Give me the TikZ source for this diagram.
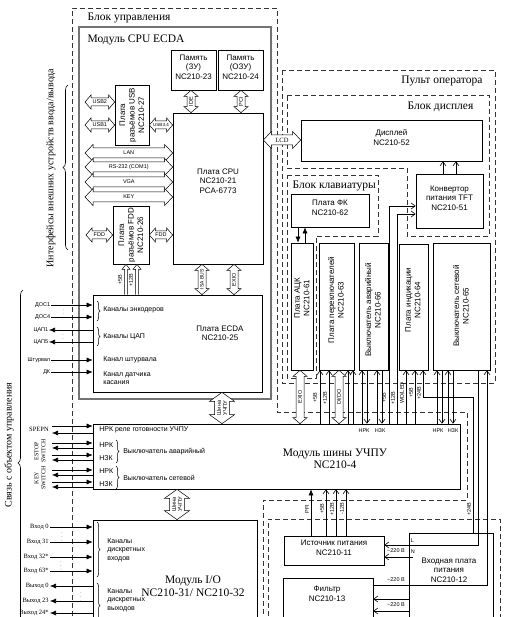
\documentclass[tikz,border=0pt]{standalone}
\usepackage{fontspec}
\setmainfont{Liberation Serif}
\setsansfont{Liberation Sans}
\usetikzlibrary{arrows.meta, positioning, calc, fit, decorations.pathreplacing}
\tikzset{
    scheme/.style={x=1pt, y=-1pt, line width=0.6pt, font=\sffamily\fontsize{8}{9.5}\selectfont,
        every node/.append style={align=center}},
    box/.style={draw, line width=0.7pt, inner sep=0pt},
    unit/.style={draw=black!55, line width=1.3pt, inner sep=0pt},
    frame/.style={draw=black!80, line width=0.7pt, dash pattern=on 5pt off 3pt},
    title/.style={font=\rmfamily\fontsize{11.5}{12.5}\selectfont},
    side/.style={font=\rmfamily\fontsize{10}{11}\selectfont, rotate=90},
    vtext/.style={rotate=90},
    tag/.style={font=\sffamily\fontsize{5.5}{6}\selectfont, inner sep=0.5pt},
    vtag/.style={tag, rotate=90},
    note/.style={font=\sffamily\fontsize{7}{8.5}\selectfont, align=left, inner sep=1pt},
    pinl/.style={font=\rmfamily\fontsize{6.5}{7.5}\selectfont, inner sep=1pt},
    ellip/.style={font=\fontsize{5}{5}\selectfont, text=violet!70!black, inner sep=0pt},
    % hollow arrows: shaft half width, head half width, head length
    hollow/.style n args={3}{draw=none, postaction={decorate, decoration={show path construction,
        lineto code={
            \draw[line width=0.5pt, fill=white]
                (\tikzinputsegmentfirst)
             -- ($(\tikzinputsegmentfirst)!#3!(\tikzinputsegmentlast)!#2!90:(\tikzinputsegmentlast)$)
             -- ($(\tikzinputsegmentfirst)!#3!(\tikzinputsegmentlast)!#1!90:(\tikzinputsegmentlast)$)
             -- ($(\tikzinputsegmentlast)!#3!(\tikzinputsegmentfirst)!#1!-90:(\tikzinputsegmentfirst)$)
             -- ($(\tikzinputsegmentlast)!#3!(\tikzinputsegmentfirst)!#2!-90:(\tikzinputsegmentfirst)$)
             -- (\tikzinputsegmentlast)
             -- ($(\tikzinputsegmentlast)!#3!(\tikzinputsegmentfirst)!#2!90:(\tikzinputsegmentfirst)$)
             -- ($(\tikzinputsegmentlast)!#3!(\tikzinputsegmentfirst)!#1!90:(\tikzinputsegmentfirst)$)
             -- ($(\tikzinputsegmentfirst)!#3!(\tikzinputsegmentlast)!#1!-90:(\tikzinputsegmentlast)$)
             -- ($(\tikzinputsegmentfirst)!#3!(\tikzinputsegmentlast)!#2!-90:(\tikzinputsegmentlast)$)
             -- cycle;
        }}}},
    hollowone/.style n args={3}{draw=none, postaction={decorate, decoration={show path construction,
        lineto code={
            \draw[line width=0.5pt, fill=white]
                ($(\tikzinputsegmentfirst)!#1!90:(\tikzinputsegmentlast)$)
             -- ($(\tikzinputsegmentlast)!#3!(\tikzinputsegmentfirst)!#1!-90:(\tikzinputsegmentfirst)$)
             -- ($(\tikzinputsegmentlast)!#3!(\tikzinputsegmentfirst)!#2!-90:(\tikzinputsegmentfirst)$)
             -- (\tikzinputsegmentlast)
             -- ($(\tikzinputsegmentlast)!#3!(\tikzinputsegmentfirst)!#2!90:(\tikzinputsegmentfirst)$)
             -- ($(\tikzinputsegmentlast)!#3!(\tikzinputsegmentfirst)!#1!90:(\tikzinputsegmentfirst)$)
             -- ($(\tikzinputsegmentfirst)!#1!-90:(\tikzinputsegmentlast)$);
        }}}},
    port/.style={hollow={4pt}{7pt}{6pt}},
    lane/.style={hollow={5pt}{8.5pt}{8pt}},
    busway/.style={hollow={7.5pt}{12.5pt}{9pt}},
    supply/.style={hollowone={1.5pt}{4pt}{5pt}},
    sig/.style={-{Latex[length=6pt, width=5pt]}},
    feed/.style={-{Straight Barb[length=4pt, width=6pt]}},
    brace/.style={decorate, decoration={brace, amplitude=3pt}, line width=0.5pt},
    bigbrace/.style={decorate, decoration={brace, amplitude=5pt}, line width=0.6pt},
}

\begin{document}
\begin{tikzpicture}[scheme]
    \useasboundingbox (0,0) rectangle (518,617);
    \clip (0,0) rectangle (518,617);

    % dashed blocks
    \draw[frame] (72,640) |- (277,8) -- (277,412) -- (467,412) -- (467,500) -- (263,500) -- (263,640);
    \draw[frame] (282,70) rectangle (495,383);
    \draw[frame] (287,95) -- (489,95) -- (489,236) -- (407,236) -- (407,168) -- (287,168) -- cycle;
    \draw[frame] (287,175) -- (378,175) -- (378,236) -- (316,236) -- (316,378) -- (287,378) -- cycle;
    \draw[frame] (268,640) |- (500,519) -- (500,640);

    \node[title, anchor=west] (tctl)  at (84,18)  {Блок управления};
    \node[title, anchor=east] (tpult) at (486,81) {Пульт оператора};
    \node[title, anchor=east] (tdisp) at (477,107) {Блок дисплея};
    \node[title, anchor=west] (tkbd)  at (289,186) {Блок клавиатуры};

    % CPU module
    \node[unit, fit={(79,27) (271,399)}] (modcpu) {};
    \node[title, anchor=west] (tcpu) at (84,40) {Модуль CPU ECDA};
    \node[box, fit={(171,50) (216,90)}]  (zu)  {Память\\(ЗУ)\\NC210-23};
    \node[box, fit={(218,50) (263,90)}]  (ozu) {Память\\(ОЗУ)\\NC210-24};
    \node[box, fit={(173,113) (263,264)}] (cpu) {};
    \node (cpulbl) at (218,181) {Плата CPU\\NC210-21\\PCA-6773};
    \node[box, fit={(115,85) (149,145)}] (usb) {};
    \node[vtext] (usblbl) at (usb.center) {Плата\\разъёмов USB\\NC210-27};
    \node[box, fit={(113,206) (149,264)}] (fdd) {};
    \node[vtext] (fddlbl) at (fdd.center) {Плата\\разъёмов FDD\\NC210-26};
    \node[box, fit={(93,295) (262,392)}] (ecda) {};
    \node (ecdalbl) at (220,333) {Плата ECDA\\NC210-25};

    % bus and I/O modules
    \node[box, fit={(93,424) (460,489)}] (bus) {};
    \node[title] (buslbl) at (335,459) {Модуль шины УЧПУ\\NC210-4};
    \node[box, fit={(93,520) (257,640)}] (io) {};
    \node[title] (iolbl) at (193,586) {Модуль I/O\\NC210-31/ NC210-32};

    % operator panel
    \node[box, fit={(301,120) (482,161)}] (disp) {Дисплей\\NC210-52};
    \node[box, fit={(416,174) (483,228)}] (conv) {Конвертор\\питания TFT\\NC210-51};
    \node[box, fit={(291,194) (369,227)}] (fk)   {Плата ФК\\NC210-62};
    \node[box, fit={(291,243) (313,370)}] (adc)   {};
    \node[box, fit={(319,243) (354,370)}] (swb)   {};
    \node[box, fit={(359,243) (388,370)}] (estop) {};
    \node[box, fit={(399,244) (428,370)}] (ind)   {};
    \node[box, fit={(433,243) (490,370)}] (net)   {};
    \node[vtext] (adclbl)   at (302,298) {Плата АЦК\\NC210-61};
    \node[vtext] (swblbl)   at (336,300) {Плата переключателей\\NC210-63};
    \node[vtext] (estoplbl) at (373,310) {Выключатель аварийный\\NC210-66};
    \node[vtext] (indlbl)   at (413,300) {Плата индикации\\NC210-64};
    \node[vtext] (netlbl)   at (461,306) {Выключатель сетевой\\NC210-65};

    % power supply
    \node[box, fit={(284,536) (384,565)}] (psu) {Источник питания\\NC210-11};
    \node[box, fit={(409,533) (493,640)}] (inb) {};
    \node (inblbl) at (449,570) {Входная плата\\питания\\NC210-12};
    \node[box, fit={(283,578) (373,640)}] (filt) {};
    \node (filtlbl) at (327,594) {Фильтр\\NC210-13};

    % side captions
    \draw[bigbrace] (68,250) -- (68,85);
    \node[side] (lintf) at (51,168) {Интерфейсы внешних устройств ввода/вывода};
    \draw[bigbrace] (23,636) -- (23,290);
    \node[side] (lobj) at (9,445) {Связь с объектом управления};

    % CPU interfaces
    \coordinate (pusb2) at (85,102);
    \coordinate (pusb1) at (85,125);
    \draw[port] (pusb2) -- node[tag] {USB2} (pusb2 -| usb.west);
    \draw[port] (pusb1) -- node[tag] {USB1} (pusb1 -| usb.west);
    \draw[port] (usb.east |- pusb1) -- node[tag, font=\sffamily\fontsize{4.5}{5}\selectfont] {USB3,4} (cpu.west |- pusb1);
    \coordinate (plan) at (85,153);
    \coordinate (pcom) at (85,167);
    \coordinate (pvga) at (85,182);
    \coordinate (pkey) at (85,197);
    \draw[lane] (plan) -- node[tag] {LAN} (plan -| cpu.west);
    \draw[lane] (pcom) -- node[tag] {RS-232 (COM1)} (pcom -| cpu.west);
    \draw[lane] (pvga) -- node[tag] {VGA} (pvga -| cpu.west);
    \draw[lane] (pkey) -- node[tag] {KEY} (pkey -| cpu.west);
    \coordinate (pfdd) at (86,235);
    \draw[port] (pfdd) -- node[tag] {FDD} (pfdd -| fdd.west);
    \draw[port] (fdd.east |- pfdd) -- node[tag] {FDD} (cpu.west |- pfdd);
    \draw[port] (191,0 |- zu.south)  -- node[vtag] {IDE} (191,0 |- cpu.north);
    \draw[port] (241,0 |- ozu.south) -- node[vtag] {PCI} (241,0 |- cpu.north);
    \draw[port] (202,0 |- cpu.south) -- node[vtag, font=\sffamily\fontsize{5}{5}\selectfont] {ISA BUS} (202,0 |- ecda.north);
    \draw[port] (234,0 |- cpu.south) -- node[vtag] {EXIO} (234,0 |- ecda.north);
    \draw[supply] (126,0 |- ecda.north) -- (126,0 |- fdd.south);
    \draw[supply] (137,0 |- ecda.north) -- (137,0 |- fdd.south);
    \node[vtag] at (120,280) {+5В};
    \node[vtag] at (131,280) {+12В};
    \draw[busway] (222,0 |- ecda.south) -- node[vtag] {Шина\\УЧПУ} (222,0 |- bus.north);
    \draw[busway] (177,0 |- bus.south) -- node[vtag] {Шина\\УЧПУ} (177,0 |- io.north);
    \draw[lane] (cpu.east |- 0,140) -- node[pinl] {LCD} (disp.west |- 0,140);

    % ECDA channels
    \node[tag, anchor=east] (dos1)  at (51,305) {ДОС1};
    \node[tag, anchor=east] (dos4)  at (51,317) {ДОС4};
    \node[tag, anchor=east] (cap1)  at (49,330) {ЦАП1};
    \node[tag, anchor=east] (cap5)  at (49,342) {ЦАП5};
    \node[tag, anchor=east] (wheel) at (51,360) {Штурвал};
    \node[tag, anchor=east] (dk)    at (51,372) {ДК};
    \draw[sig] (dos1.east) -- (dos1.east -| ecda.west);
    \draw[sig] (dos4.east) -- (dos4.east -| ecda.west);
    \draw[sig] (cap1.east -| ecda.west) -- (cap1.east);
    \draw[sig] (cap5.east -| ecda.west) -- (cap5.east);
    \draw[sig] (wheel.east) -- (wheel.east -| ecda.west);
    \draw[sig] (dk.east) -- (dk.east -| ecda.west);
    \node[ellip] (ed1) at (64,311) {$\vdots$};
    \node[ellip] (ed2) at (63,336) {$\vdots$};
    \draw[brace] (97,301) -- (97,321);
    \draw[brace] (97,327) -- (97,346);
    \node[note, anchor=west] (lenc)   at (102,310) {Каналы энкодеров};
    \node[note, anchor=west] (ldac)   at (102,337) {Каналы ЦАП};
    \node[note, anchor=west] (lwheel) at (102,360) {Канал штурвала};
    \node[note, anchor=west] (ltouch) at (102,378) {Канал датчика\\касания};

    % bus module signals
    \node[pinl, anchor=east] (spepn) at (50,429) {SPEPN};
    \coordinate (spin)  at (52,426);
    \coordinate (spout) at (52,433);
    \draw[sig] (spin) -- (spin -| bus.west);
    \draw[sig] (spout -| bus.west) -- (spout);
    \node[pinl, rotate=90, font=\rmfamily\fontsize{6}{7}\selectfont] (estopl) at (40,451) {ESTOP\\SWITCH};
    \node[pinl, rotate=90, font=\rmfamily\fontsize{6}{7}\selectfont] (keyl)   at (40,478) {KEY\\SWITCH};
    \coordinate (es1) at (52,443);
    \coordinate (es2) at (52,448);
    \coordinate (es3) at (52,455);
    \coordinate (es4) at (52,460);
    \coordinate (ks1) at (52,470);
    \coordinate (ks2) at (52,475);
    \coordinate (ks3) at (52,482);
    \coordinate (ks4) at (52,487);
    \draw[sig] (es1) -- (es1 -| bus.west);
    \draw[sig] (es2 -| bus.west) -- (es2);
    \draw[sig] (es3) -- (es3 -| bus.west);
    \draw[sig] (es4 -| bus.west) -- (es4);
    \draw[sig] (ks1) -- (ks1 -| bus.west);
    \draw[sig] (ks2 -| bus.west) -- (ks2);
    \draw[sig] (ks3) -- (ks3 -| bus.west);
    \draw[sig] (ks4 -| bus.west) -- (ks4);
    \node[note, anchor=west] (nrdy) at (98,430) {НРК реле готовности УЧПУ};
    \node[note, anchor=west] (nro1) at (98,445) {НРК};
    \node[note, anchor=west] (nzo1) at (98,458) {НЗК};
    \draw[brace] (116,440) -- (116,463);
    \node[note, anchor=west] (lestop) at (122,452) {Выключатель аварийный};
    \node[note, anchor=west] (nro2) at (98,471) {НРК};
    \node[note, anchor=west] (nzo2) at (98,484) {НЗК};
    \draw[brace] (116,466) -- (116,489);
    \node[note, anchor=west] (lnet) at (122,478) {Выключатель сетевой};

    % discrete I/O
    \node[pinl, anchor=east] (in0)   at (50,527) {Вход 0};
    \node[pinl, anchor=east] (in31)  at (50,542) {Вход 31};
    \node[pinl, anchor=east] (in32)  at (50,557) {Вход 32*};
    \node[pinl, anchor=east] (in63)  at (50,571) {Вход 63*};
    \node[pinl, anchor=east] (out0)  at (50,586) {Выход 0};
    \node[pinl, anchor=east] (out23) at (50,601) {Выход 23};
    \node[pinl, anchor=east] (out24) at (50,613) {Выход 24*};
    \draw[sig] (in0.east)  -- (in0.east -| io.west);
    \draw[sig] (in31.east) -- (in31.east -| io.west);
    \draw[sig] (in32.east) -- (in32.east -| io.west);
    \draw[sig] (in63.east) -- (in63.east -| io.west);
    \draw[sig] (out0.east -| io.west)  -- (out0.east);
    \draw[sig] (out23.east -| io.west) -- (out23.east);
    \draw[sig] (out24.east -| io.west) -- (out24.east);
    \node[ellip] (ed3) at (62,534) {$\vdots$};
    \node[ellip] (ed4) at (61,563) {$\vdots$};
    \node[ellip] (ed5) at (81,594) {$\vdots$};
    \draw[brace] (97,522) -- (97,577);
    \draw[brace] (97,583) -- (97,628);
    \node[note, anchor=west] (ldin)  at (106,550) {Каналы\\дискретных\\входов};
    \node[note, anchor=west] (ldout) at (106,600) {Каналы\\дискретных\\выходов};

    % keyboard and display links
    \draw[sig] (298,0 |- fk.south) -- (298,0 |- adc.north);
    \draw[sig] (305,0 |- adc.north) -- (305,0 |- fk.south);
    \draw[feed] (443,0 |- conv.north) -- (443,0 |- disp.south);
    \draw[feed] (456,0 |- conv.north) -- (456,0 |- disp.south);
    \draw[feed] (389,0 |- bus.north) |- (conv.west |- 0,206);
    \draw[feed] (397,0 |- bus.north) |- (conv.west |- 0,214);
    \node[vtag] at (384,398) {+5В};
    \node[vtag] at (393,398) {+12В};

    % panel boards to bus
    \draw[port] (300,0 |- adc.south) -- node[vtag] {EXIO} (300,0 |- bus.north);
    \draw[feed] (320,0 |- bus.north) -- (320,0 |- swb.south);
    \draw[feed] (329,0 |- bus.north) -- (329,0 |- swb.south);
    \node[vtag] at (315,398) {+5В};
    \node[vtag] at (325,398) {+12В};
    \draw[port] (339,0 |- swb.south) -- node[vtag] {DI/DO} (339,0 |- bus.north);
    \draw[feed] (348,0 |- bus.north) -- (348,0 |- swb.south);
    \draw[feed] (353,0 |- bus.north) -- (353,0 |- swb.south);
    \draw[feed] (362,0 |- bus.north) -- (362,0 |- estop.south);
    \draw[feed] (367,0 |- estop.south) -- (367,0 |- bus.north);
    \draw[feed] (377,0 |- bus.north) -- (377,0 |- estop.south);
    \draw[feed] (382,0 |- estop.south) -- (382,0 |- bus.north);
    \node[tag] at (364,431) {НРК};
    \node[tag] at (380,431) {НЗК};
    \draw[feed] (406,0 |- bus.north) -- (406,0 |- ind.south);
    \draw[feed] (415,0 |- bus.north) -- (415,0 |- ind.south);
    \draw[feed] (473,0 |- inb.north) |- (423,397) -- (423,0 |- ind.south);
    \node[vtag] at (402,393) {WD/LED};
    \node[vtag] at (411,393) {+5В};
    \node[vtag] at (419,393) {+24В};
    \node[vtag] at (469,509) {+24В};
    \draw[feed] (437,0 |- bus.north) -- (437,0 |- net.south);
    \draw[feed] (442,0 |- net.south) -- (442,0 |- bus.north);
    \draw[feed] (448,0 |- bus.north) -- (448,0 |- net.south);
    \draw[feed] (453,0 |- net.south) -- (453,0 |- bus.north);
    \node[tag] at (438,431) {НРК};
    \node[tag] at (453,431) {НЗК};

    % power lines
    \draw[sig]  (311,0 |- psu.north) -- (311,0 |- bus.south);
    \draw[feed] (326,0 |- psu.north) -- (326,0 |- bus.south);
    \draw[feed] (336,0 |- psu.north) -- (336,0 |- bus.south);
    \draw[feed] (346,0 |- psu.north) -- (346,0 |- bus.south);
    \node[vtag] at (307,509) {PFI};
    \node[vtag] at (322,509) {+5В};
    \node[vtag] at (332,509) {+12В};
    \node[vtag] at (342,509) {-12В};
    \node[tag, anchor=west] (lterm) at (410,541) {L};
    \node[tag, anchor=west] (nterm) at (410,552) {N};
    \draw[feed] (478,0 |- net.south) |- (psu.east |- 0,545);
    \draw[feed] (413,557) -- (psu.east |- 0,557);
    \node[tag] at (396,551) {\textasciitilde220 В};
    \draw[feed] (filt.east |- 0,585) -| (487,0 |- net.south);
    \node[tag] at (396,580) {\textasciitilde220 В};
    \draw[feed] (inb.west |- 0,599) -- (filt.east |- 0,599);
    \draw[feed] (inb.west |- 0,611) -- (filt.east |- 0,611);
    \node[tag] at (396,605) {\textasciitilde220 В};
\end{tikzpicture}
\end{document}
